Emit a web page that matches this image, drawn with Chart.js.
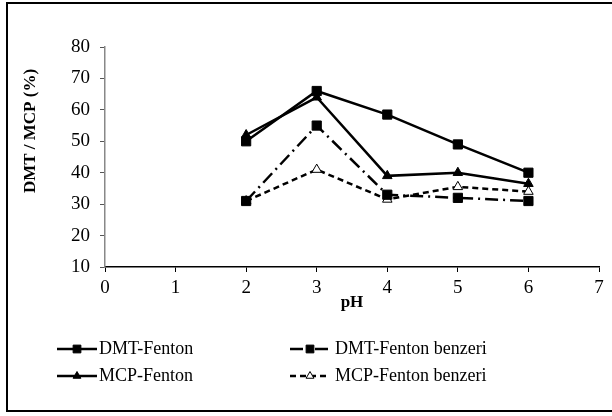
<!DOCTYPE html>
<html>
<head>
<meta charset="utf-8">
<script src="https://cdn.jsdelivr.net/npm/chart.js@4"></script>
<style>
  body { margin: 0; background: #fff; }
  #wrap { width: 612px; height: 416px; }
</style>
</head>
<body>
<div id="wrap"><canvas id="chart" width="612" height="416"></canvas></div>
<script>
const ctx = document.getElementById('chart');

const phValues = [2, 3, 4, 5, 6];
const dmtFenton = [50, 66, 58.5, 49, 40];
const mcpFenton = [52, 64, 39, 40, 36.5];
const dmtBenzeri = [31, 55, 33, 32, 31];
const mcpBenzeri = [31, 41, 31.5, 35.5, 34];

const serif = 'Liberation Serif';
const black = '#000';

const toPoints = (vals) => vals.map((v, i) => ({ x: phValues[i], y: v }));

// legend slots: [x of line start, y]
const legendSlots = [[57, 349], [290, 349], [57, 376], [290, 376]];

const framePlugin = {
    id: 'frame',
    afterDraw(chart) {
        const c = chart.ctx;
        c.save();
        // outer border: left, top, bottom (right side is cut off in the picture)
        c.strokeStyle = black;
        c.lineWidth = 2;
        c.beginPath();
        c.moveTo(612, 3);
        c.lineTo(7, 3);
        c.lineTo(7, 411);
        c.lineTo(612, 411);
        c.stroke();

        // y title
        c.translate(31, 131);
        c.rotate(-Math.PI / 2);
        c.font = 'bold 17px ' + serif;
        c.fillStyle = black;
        c.textAlign = 'center';
        c.textBaseline = 'middle';
        c.fillText('DMT / MCP (%)', 0, 0);
        c.restore();

        // legend
        c.save();
        chart.data.datasets.forEach((ds, i) => {
            const [lx, ly] = legendSlots[i];
            const len = 40;
            c.strokeStyle = black;
            c.lineWidth = ds.borderWidth;
            c.setLineDash(ds.borderDash || []);
            c.beginPath();
            c.moveTo(lx, ly);
            c.lineTo(lx + len, ly);
            c.stroke();
            c.setLineDash([]);
            c.fillStyle = ds.pointBackgroundColor;
            c.strokeStyle = black;
            c.lineWidth = 1;
            Chart.helpers.drawPoint(c, {
                pointStyle: ds.pointStyle,
                radius: ds.pointRadius - 1,
                rotation: 0,
                borderWidth: 1
            }, lx + len / 2, ly);
            c.font = '18px ' + serif;
            c.fillStyle = black;
            c.textAlign = 'left';
            c.textBaseline = 'middle';
            c.fillText(ds.label, lx + len + (i % 2 === 0 ? 2 : 5), ly);
        });
        c.restore();
    }
};

const baseSet = {
    borderColor: black,
    borderWidth: 2.5,
    pointBorderColor: black,
    pointBorderWidth: 1,
    tension: 0,
    fill: false
};

new Chart(ctx, {
    type: 'line',
    data: {
        datasets: [
            {
                ...baseSet,
                label: 'DMT-Fenton',
                data: toPoints(dmtFenton),
                pointStyle: 'rect',
                pointRadius: 6.5,
                pointBackgroundColor: black
            },
            {
                ...baseSet,
                label: 'DMT-Fenton benzeri',
                data: toPoints(dmtBenzeri),
                borderDash: [13, 5, 2, 5],
                pointStyle: 'rect',
                pointRadius: 6.5,
                pointBackgroundColor: black
            },
            {
                ...baseSet,
                label: 'MCP-Fenton',
                data: toPoints(mcpFenton),
                pointStyle: 'triangle',
                pointRadius: 5.5,
                pointBackgroundColor: black
            },
            {
                ...baseSet,
                label: 'MCP-Fenton benzeri',
                data: toPoints(mcpBenzeri),
                borderDash: [6, 4],
                pointStyle: 'triangle',
                pointRadius: 5.5,
                pointBackgroundColor: '#fff'
            }
        ]
    },
    options: {
        responsive: false,
        animation: false,
        layout: { padding: { left: 0, right: 13, top: 47, bottom: 99 } },
        plugins: {
            legend: { display: false },
            tooltip: { enabled: false }
        },
        scales: {
            x: {
                type: 'linear',
                min: 0,
                max: 7,
                ticks: {
                    stepSize: 1,
                    color: black,
                    padding: 5,
                    font: { family: serif, size: 19 }
                },
                grid: { drawOnChartArea: false, drawTicks: true, tickLength: 5, color: black },
                border: { color: black, width: 1.5 },
                title: {
                    display: true,
                    text: 'pH',
                    color: black,
                    padding: { top: 2 },
                    font: { family: serif, size: 17, weight: 'bold' }
                },
                afterFit: (s) => { s.height = 50; }
            },
            y: {
                min: 10,
                max: 80,
                ticks: {
                    stepSize: 10,
                    color: black,
                    padding: 10,
                    font: { family: serif, size: 19 }
                },
                grid: { drawOnChartArea: false, drawTicks: true, tickLength: 5, color: '#555' },
                border: { color: '#888', width: 1.5 },
                afterFit: (s) => { s.width = 105; }
            }
        }
    },
    plugins: [framePlugin]
});
</script>
</body>
</html>
